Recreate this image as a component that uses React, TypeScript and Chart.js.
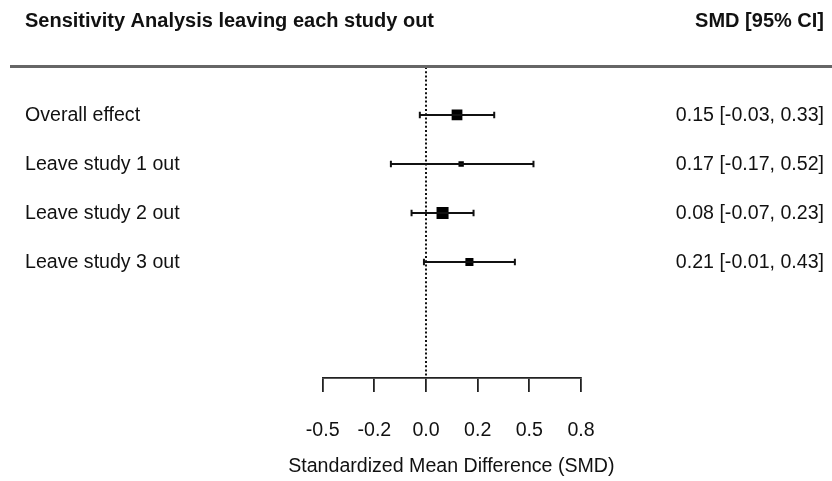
import React, { useEffect, useRef } from "react";
import { Chart, registerables } from "chart.js";

Chart.register(...registerables);

// ---- data ----
const rowLabels = ["Overall effect", "Leave study 1 out", "Leave study 2 out", "Leave study 3 out"];
const estimates = [0.15, 0.17, 0.08, 0.21];
const lowerCI = [-0.03, -0.17, -0.07, -0.01];
const upperCI = [0.33, 0.52, 0.23, 0.43];
const tickValues = [-0.5, -0.25, 0, 0.25, 0.5, 0.75];
const tickLabels = ["-0.5", "-0.2", "0.0", "0.2", "0.5", "0.8"];
const plotTitle = "Sensitivity Analysis leaving each study out";
const columnTitle = "SMD [95% CI]";
const axisTitle = "Standardized Mean Difference (SMD)";

// ---- styles ----
const FONT = "'Liberation Sans', Arial, sans-serif";
const markerRadius = [7.6, 3.8, 8.5, 5.7];
const Y_MIN = -1.37;
const Y_MAX = 4.98;

const rowY = rowLabels.map((_, i) => rowLabels.length - i);

const fmt = (v: number) => v.toFixed(2);

const textPlugin = {
  id: "forestText",
  afterDraw(chart: any) {
    const ctx = chart.ctx;
    const yScale = chart.scales.y;
    const xScale = chart.scales.x;
    const top = chart.chartArea.top;
    ctx.save();
    // header line
    ctx.strokeStyle = "#666";
    ctx.lineWidth = 3;
    ctx.beginPath();
    ctx.moveTo(10, top - 0.5);
    ctx.lineTo(chart.width, top - 0.5);
    ctx.stroke();
    // headers
    ctx.fillStyle = "#111";
    ctx.textBaseline = "middle";
    ctx.font = `bold 20px ${FONT}`;
    ctx.textAlign = "left";
    ctx.fillText(plotTitle, 25, 21);
    ctx.textAlign = "right";
    ctx.fillText(columnTitle, 824, 21);
    // rows
    ctx.font = `19.6px ${FONT}`;
    rowLabels.forEach((lab, i) => {
      const y = yScale.getPixelForValue(rowY[i]) + 1;
      ctx.textAlign = "left";
      ctx.fillText(lab, 25, y);
      ctx.textAlign = "right";
      ctx.fillText(`${fmt(estimates[i])} [${fmt(lowerCI[i])}, ${fmt(upperCI[i])}]`, 824, y);
    });
    // axis title
    ctx.textAlign = "center";
    ctx.font = `19.6px ${FONT}`;
    ctx.fillText(axisTitle, (xScale.left + xScale.right) / 2 - 0.5, 467);
    ctx.restore();
  },
};

export default function App() {
  const ref = useRef<HTMLCanvasElement>(null);
  useEffect(() => {
    document.body.style.margin = "0";
    const datasets: any[] = [];
    // zero reference line
    datasets.push({
      type: "line",
      data: [
        { x: 0, y: Y_MAX },
        { x: 0, y: Y_MIN },
      ],
      borderColor: "#111",
      borderWidth: 2,
      borderDash: [2, 2.2],
      pointRadius: 0,
      showLine: true,
    });
    // CI bars
    rowLabels.forEach((_, i) => {
      datasets.push({
        type: "line",
        data: [
          { x: lowerCI[i], y: rowY[i] },
          { x: upperCI[i], y: rowY[i] },
        ],
        borderColor: "#111",
        borderWidth: 2,
        showLine: true,
        pointStyle: "line",
        rotation: 90,
        pointRadius: 3.3,
        pointBorderWidth: 2,
        pointBorderColor: "#111",
      });
    });
    // estimates
    datasets.push({
      type: "scatter",
      data: estimates.map((e, i) => ({ x: e, y: rowY[i] })),
      pointStyle: "rect",
      pointRadius: markerRadius,
      backgroundColor: "#000",
      borderColor: "#000",
      borderWidth: 0,
    });

    const chart = new Chart(ref.current!, {
      type: "scatter",
      data: { datasets },
      plugins: [textPlugin],
      options: {
        animation: false,
        responsive: false,
        events: [],
        layout: { padding: { left: 322.7, right: 251, top: 67, bottom: 0 } },
        plugins: { legend: { display: false }, tooltip: { enabled: false } },
        scales: {
          x: {
            type: "linear",
            min: -0.5,
            max: 0.75,
            afterBuildTicks: (scale: any) => {
              scale.ticks = tickValues.map((v) => ({ value: v }));
            },
            afterFit: (scale: any) => {
              scale.height = 103;
            },
            grid: {
              drawOnChartArea: false,
              drawTicks: true,
              tickLength: 14,
              color: "#222",
              lineWidth: 1.8,
            },
            border: { display: true, color: "#222", width: 1.8 },
            ticks: {
              padding: 27,
              color: "#111",
              font: { family: FONT, size: 19.6 },
              maxRotation: 0,
              autoSkip: false,
              callback: (_v: any, idx: number) => tickLabels[idx],
            },
          },
          y: {
            type: "linear",
            display: false,
            min: Y_MIN,
            max: Y_MAX,
          },
        },
      },
    });
    return () => chart.destroy();
  }, []);
  return (
    <div style={{ position: "absolute", left: 0, top: 0, width: 832, height: 481, background: "#fff" }}>
      <canvas ref={ref} width={832} height={481} />
    </div>
  );
}
